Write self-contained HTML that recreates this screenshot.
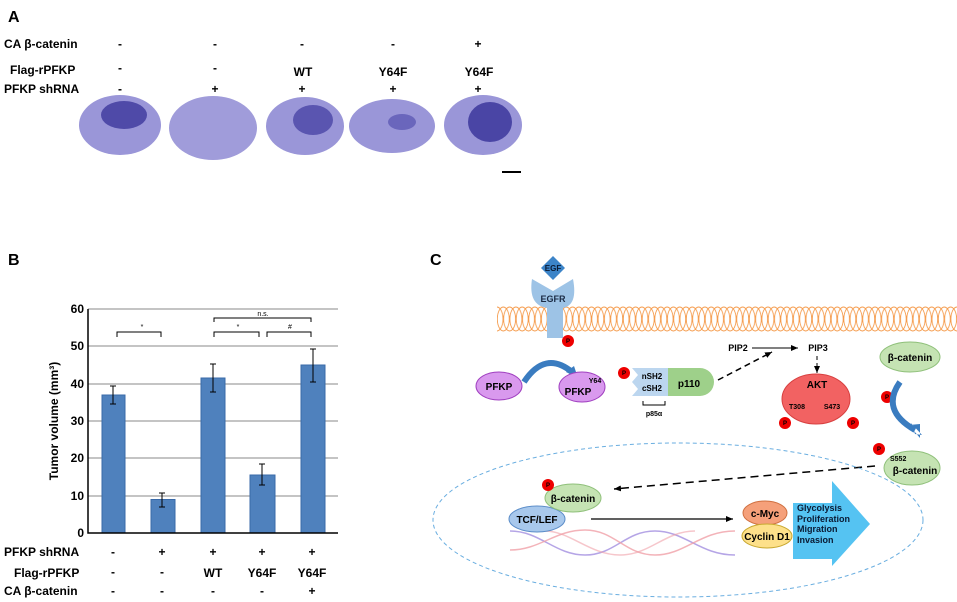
<!DOCTYPE html>
<html><head><meta charset="utf-8"><style>
body{margin:0;background:#fff}
svg{display:block;font-family:"Liberation Sans",Arial,sans-serif}
</style></head><body>
<svg width="957" height="602" viewBox="0 0 957 602" xmlns="http://www.w3.org/2000/svg">
<defs>
<pattern id="mem" x="497" y="305" width="6.3" height="30" patternUnits="userSpaceOnUse">
<ellipse cx="6.3" cy="14" rx="6" ry="12" fill="none" stroke="#f59a4a" stroke-width="0.9"/>
<ellipse cx="0" cy="14" rx="6" ry="12" fill="none" stroke="#f59a4a" stroke-width="0.9"/>
</pattern>
<marker id="ah" markerWidth="8" markerHeight="8" refX="7" refY="4" orient="auto" markerUnits="userSpaceOnUse"><path d="M0,1 L7,4 L0,7 Z" fill="#000"/></marker>
</defs>
<!-- Panel A -->
<g font-weight="bold" font-size="12">
<text x="8" y="22" font-size="16">A</text>
<text x="4" y="48">CA β-catenin</text>
<text x="10" y="74">Flag-rPFKP</text>
<text x="4" y="93">PFKP shRNA</text>
<g text-anchor="middle">
<text x="120" y="48">-</text><text x="215" y="48">-</text><text x="302" y="48">-</text><text x="393" y="48">-</text><text x="478" y="48">+</text>
<text x="120" y="72">-</text><text x="215" y="72">-</text><text x="303" y="76">WT</text><text x="393" y="76">Y64F</text><text x="479" y="76">Y64F</text>
<text x="120" y="93">-</text><text x="215" y="93">+</text><text x="302" y="93">+</text><text x="393" y="93">+</text><text x="478" y="93">+</text>
</g></g>
<g>
<ellipse cx="120" cy="125" rx="41" ry="30" fill="#9a96d8"/><ellipse cx="124" cy="115" rx="23" ry="14" fill="#4f4aa8"/>
<ellipse cx="213" cy="128" rx="44" ry="32" fill="#a09cda"/>
<ellipse cx="305" cy="126" rx="39" ry="29" fill="#9a96d8"/><ellipse cx="313" cy="120" rx="20" ry="15" fill="#5a55b0"/>
<ellipse cx="392" cy="126" rx="43" ry="27" fill="#9a96d8"/><ellipse cx="402" cy="122" rx="14" ry="8" fill="#6a66bc"/>
<ellipse cx="483" cy="125" rx="39" ry="30" fill="#9a96d8"/><ellipse cx="490" cy="122" rx="22" ry="20" fill="#4a45a5"/>
<rect x="502" y="171" width="19" height="2" fill="#000"/>
</g>
<!-- Panel B -->
<text x="8" y="265" font-weight="bold" font-size="16">B</text>
<g stroke="#888" stroke-width="1">
<line x1="88" y1="309" x2="338" y2="309"/><line x1="88" y1="346" x2="338" y2="346"/><line x1="88" y1="384" x2="338" y2="384"/><line x1="88" y1="421" x2="338" y2="421"/><line x1="88" y1="458" x2="338" y2="458"/><line x1="88" y1="496" x2="338" y2="496"/>
</g>
<g fill="#4f81bd" stroke="#3a6aa8">
<rect x="102" y="395" width="23" height="138"/>
<rect x="151" y="499.5" width="24" height="33.5"/>
<rect x="201" y="378" width="24" height="155"/>
<rect x="250" y="475" width="25" height="58"/>
<rect x="301" y="365" width="24" height="168"/>
</g>
<g stroke="#000" stroke-width="1" fill="none">
<path d="M113 386V404M110 386H116M110 404H116"/>
<path d="M162 493V507M159 493H165M159 507H165"/>
<path d="M213 364V392M210 364H216M210 392H216"/>
<path d="M262 464V485M259 464H265M259 485H265"/>
<path d="M313 349V382M310 349H316M310 382H316"/>
<path d="M117 337V332H161V337"/>
<path d="M214 337V332H259V337M267 337V332H311V337M214 322V318H311V322"/>
<path d="M88 309V533H338" stroke-width="1.5"/>
</g>
<g font-size="7" text-anchor="middle"><text x="142" y="329">*</text><text x="238" y="329">*</text><text x="290" y="329">#</text><text x="263" y="316">n.s.</text></g>
<g font-weight="bold" font-size="12" text-anchor="end">
<text x="84" y="313">60</text><text x="84" y="350">50</text><text x="84" y="388">40</text><text x="84" y="425">30</text><text x="84" y="462">20</text><text x="84" y="500">10</text><text x="84" y="537">0</text>
</g>
<text transform="translate(58,421) rotate(-90)" text-anchor="middle" font-weight="bold" font-size="12">Tumor volume (mm³)</text>
<g font-weight="bold" font-size="12">
<text x="4" y="556">PFKP shRNA</text><text x="14" y="577">Flag-rPFKP</text><text x="4" y="595">CA β-catenin</text>
<g text-anchor="middle">
<text x="113" y="556">-</text><text x="162" y="556">+</text><text x="213" y="556">+</text><text x="262" y="556">+</text><text x="312" y="556">+</text>
<text x="113" y="576">-</text><text x="162" y="576">-</text><text x="213" y="577">WT</text><text x="262" y="577">Y64F</text><text x="312" y="577">Y64F</text>
<text x="113" y="595">-</text><text x="162" y="595">-</text><text x="213" y="595">-</text><text x="262" y="595">-</text><text x="312" y="595">+</text>
</g></g>
<!-- Panel C -->
<text x="430" y="265" font-weight="bold" font-size="16">C</text>
<rect x="497" y="305" width="460" height="30" fill="url(#mem)"/>
<path d="M532 279 L553 291 L573 279 Q578 305 563 308 L563 338 L547 338 L547 308 Q528 305 532 279 Z" fill="#9dc3e6"/>
<text x="553" y="302" text-anchor="middle" font-size="9" font-weight="bold" fill="#1a2a44">EGFR</text>
<path d="M553 256 L565 268 L553 280 L541 268 Z" fill="#3c84c8"/>
<text x="553" y="271" text-anchor="middle" font-size="8" font-weight="bold" fill="#0a1a33">EGF</text>
<g font-size="6" font-weight="bold" text-anchor="middle">
<circle cx="568" cy="341" r="6" fill="#e00"/><text x="568" y="343">P</text>
</g>
<path d="M524 382 Q545 350 572 372" fill="none" stroke="#3a7cc0" stroke-width="6"/>
<path d="M566 372 L578 378 L574 366 Z" fill="#3a7cc0"/>
<ellipse cx="499" cy="386" rx="23" ry="14" fill="#d999ee" stroke="#a040c0"/>
<text x="499" y="390" text-anchor="middle" font-size="10" font-weight="bold">PFKP</text>
<ellipse cx="582" cy="387" rx="23" ry="15" fill="#d999ee" stroke="#a040c0"/>
<text x="595" y="383" text-anchor="middle" font-size="7" font-weight="bold">Y64</text>
<text x="578" y="395" text-anchor="middle" font-size="10" font-weight="bold">PFKP</text>
<circle cx="624" cy="373" r="6" fill="#e00"/><text x="624" y="375" text-anchor="middle" font-size="6" font-weight="bold">P</text>
<path d="M632 368 H668 V396 H632 L638 389 L632 382 L638 375 Z" fill="#bcd6ef"/>
<path d="M668 368 H700 A14 14 0 0 1 700 396 H668 Z" fill="#9ed08a"/>
<text x="652" y="379" text-anchor="middle" font-size="8" font-weight="bold">nSH2</text>
<text x="652" y="391" text-anchor="middle" font-size="8" font-weight="bold">cSH2</text>
<text x="689" y="387" text-anchor="middle" font-size="10" font-weight="bold">p110</text>
<path d="M643 401V405H665V401" fill="none" stroke="#000"/>
<text x="654" y="416" text-anchor="middle" font-size="7" font-weight="bold">p85α</text>
<line x1="718" y1="380" x2="772" y2="352" stroke="#000" stroke-dasharray="6,4" stroke-width="1.5" marker-end="url(#ah)"/>
<text x="738" y="351" text-anchor="middle" font-size="9" font-weight="bold">PIP2</text>
<line x1="752" y1="348" x2="798" y2="348" stroke="#000" stroke-width="1" marker-end="url(#ah)"/>
<text x="818" y="351" text-anchor="middle" font-size="9" font-weight="bold">PIP3</text>
<line x1="817" y1="356" x2="817" y2="373" stroke="#000" stroke-dasharray="4,3" marker-end="url(#ah)"/>
<ellipse cx="816" cy="399" rx="34" ry="25" fill="#f26262" stroke="#d84040"/>
<text x="817" y="388" text-anchor="middle" font-size="10" font-weight="bold">AKT</text>
<text x="797" y="409" text-anchor="middle" font-size="7" font-weight="bold">T308</text>
<text x="832" y="409" text-anchor="middle" font-size="7" font-weight="bold">S473</text>
<circle cx="785" cy="423" r="6" fill="#e00"/><text x="785" y="425" text-anchor="middle" font-size="6" font-weight="bold">P</text>
<circle cx="853" cy="423" r="6" fill="#e00"/><text x="853" y="425" text-anchor="middle" font-size="6" font-weight="bold">P</text>
<ellipse cx="910" cy="357" rx="30" ry="15" fill="#c5e3b3" stroke="#8fc07a"/>
<text x="910" y="361" text-anchor="middle" font-size="10" font-weight="bold">β-catenin</text>
<circle cx="887" cy="397" r="6" fill="#e00"/><text x="887" y="399" text-anchor="middle" font-size="6" font-weight="bold">P</text>
<path d="M900 382 Q880 410 915 430" fill="none" stroke="#3a7cc0" stroke-width="6"/>
<path d="M911 423 L922 435 L915 434 Z M909 425 L920 438 L920 424 Z" fill="#3a7cc0"/>
<circle cx="879" cy="449" r="6" fill="#e00"/><text x="879" y="451" text-anchor="middle" font-size="6" font-weight="bold">P</text>
<ellipse cx="912" cy="468" rx="28" ry="17" fill="#c5e3b3" stroke="#8fc07a"/>
<text x="890" y="461" font-size="7" font-weight="bold">S552</text>
<text x="915" y="474" text-anchor="middle" font-size="10" font-weight="bold">β-catenin</text>
<line x1="875" y1="466" x2="614" y2="489" stroke="#000" stroke-dasharray="8,5" stroke-width="1.5" marker-end="url(#ah)"/>
<ellipse cx="678" cy="520" rx="245" ry="77" fill="none" stroke="#6aaee0" stroke-dasharray="4,3"/>
<path d="M510 531 C540 531 555 555 585 555 C615 555 625 531 655 531 C685 531 700 555 735 555" fill="none" stroke="#a28ee0" stroke-width="1.5" opacity="0.8"/>
<path d="M510 550 C540 550 555 530 585 530 C615 530 625 555 655 555 C685 555 700 531 735 531" fill="none" stroke="#f0a0a8" stroke-width="1.5" opacity="0.8"/>
<path d="M545 531 C570 531 590 555 620 555 C650 555 665 531 695 531" fill="none" stroke="#f0a0a8" stroke-width="1.5" opacity="0.6"/>
<ellipse cx="537" cy="519" rx="28" ry="13" fill="#a8c8ec" stroke="#5a8cc8"/>
<text x="537" y="523" text-anchor="middle" font-size="10" font-weight="bold">TCF/LEF</text>
<ellipse cx="573" cy="498" rx="28" ry="14" fill="#c5e3b3" stroke="#8fc07a"/>
<text x="573" y="502" text-anchor="middle" font-size="10" font-weight="bold">β-catenin</text>
<circle cx="548" cy="485" r="6" fill="#e00"/><text x="548" y="487" text-anchor="middle" font-size="6" font-weight="bold">P</text>
<line x1="591" y1="519" x2="733" y2="519" stroke="#000" stroke-width="1.2" marker-end="url(#ah)"/>
<ellipse cx="765" cy="513" rx="22" ry="12" fill="#f5a07a" stroke="#d07040"/>
<text x="765" y="517" text-anchor="middle" font-size="10" font-weight="bold">c-Myc</text>
<ellipse cx="767" cy="536" rx="25" ry="12" fill="#fde08a" stroke="#c8a830"/>
<text x="767" y="540" text-anchor="middle" font-size="10" font-weight="bold">Cyclin D1</text>
<path d="M793 503 H832 V481 L870 524 L832 566 V559 H793 Z" fill="#55c3f2"/>
<g font-size="9" font-weight="bold" fill="#0a1a33">
<text x="797" y="511">Glycolysis</text><text x="797" y="522">Proliferation</text><text x="797" y="532">Migration</text><text x="797" y="543">Invasion</text>
</g>
</svg>
</body></html>
